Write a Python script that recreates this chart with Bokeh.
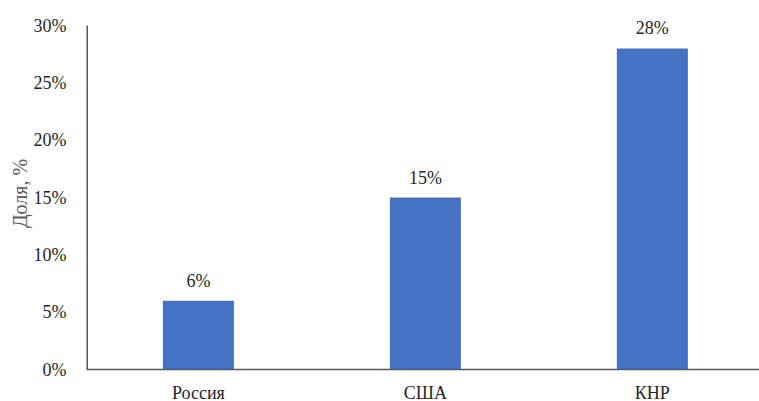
from bokeh.plotting import figure
from bokeh.models import ColumnDataSource, FixedTicker, Range1d, LabelSet
from bokeh.core.properties import value
from bokeh.embed import file_html
from bokeh.resources import INLINE

categories = ["Россия", "США", "КНР"]
values = [6, 15, 28]
value_labels = ["6%", "15%", "28%"]
y_ticks = [0, 5, 10, 15, 20, 25, 30]
y_tick_labels = ["0%", "5%", "10%", "15%", "20%", "25%", "30%"]

xs = list(range(len(categories)))
src = ColumnDataSource(dict(x=xs, top=values, lab=value_labels))

FONT = "Liberation Serif"
X0, X1 = -0.493, 2.472
Y_TOP = 30.7  # a little headroom so the top value label is not clipped

p = figure(frame_width=673, frame_height=352, output_backend="svg", toolbar_location=None,
           x_range=Range1d(X0, X1), y_range=Range1d(0, Y_TOP),
           min_border_left=86, min_border_right=0, min_border_top=17, min_border_bottom=26)
p.outline_line_color = None
p.grid.visible = False

p.vbar(x="x", top="top", width=0.313, source=src, fill_color="#4472C4", line_color=None)

# y axis line only up to the last tick (30%)
p.segment(x0=[X0], y0=[y_ticks[0]], x1=[X0], y1=[y_ticks[-1]],
          line_color="#595959", line_width=3)

p.add_layout(LabelSet(x="x", y="top", text="lab", source=src, text_align="center",
                      text_baseline="bottom", y_offset=10, text_font=value(FONT),
                      text_font_size=value("18px"), text_color="#262626"))

ax = p.xaxis[0]
ax.ticker = FixedTicker(ticks=xs)
ax.major_label_overrides = {i: c for i, c in zip(xs, categories)}
ax.major_tick_line_color = None
ax.minor_tick_line_color = None
ax.axis_line_color = "#595959"
ax.axis_line_width = 1.5
ax.major_label_text_font = FONT
ax.major_label_text_font_size = "18px"
ax.major_label_text_color = "#262626"
ax.major_label_standoff = 7

ay = p.yaxis[0]
ay.ticker = FixedTicker(ticks=y_ticks)
ay.major_label_overrides = {t: l for t, l in zip(y_ticks, y_tick_labels)}
ay.major_tick_line_color = None
ay.minor_tick_line_color = None
ay.axis_line_color = None
ay.major_label_text_font = FONT
ay.major_label_text_font_size = "18px"
ay.major_label_text_color = "#262626"
ay.major_label_standoff = 14
ay.axis_label = "Доля, %"
ay.axis_label_text_font = FONT
ay.axis_label_text_font_style = "normal"
ay.axis_label_text_font_size = "20px"
ay.axis_label_text_color = "#595959"
ay.axis_label_standoff = 0

open("out.html", "w").write(file_html(p, INLINE))
